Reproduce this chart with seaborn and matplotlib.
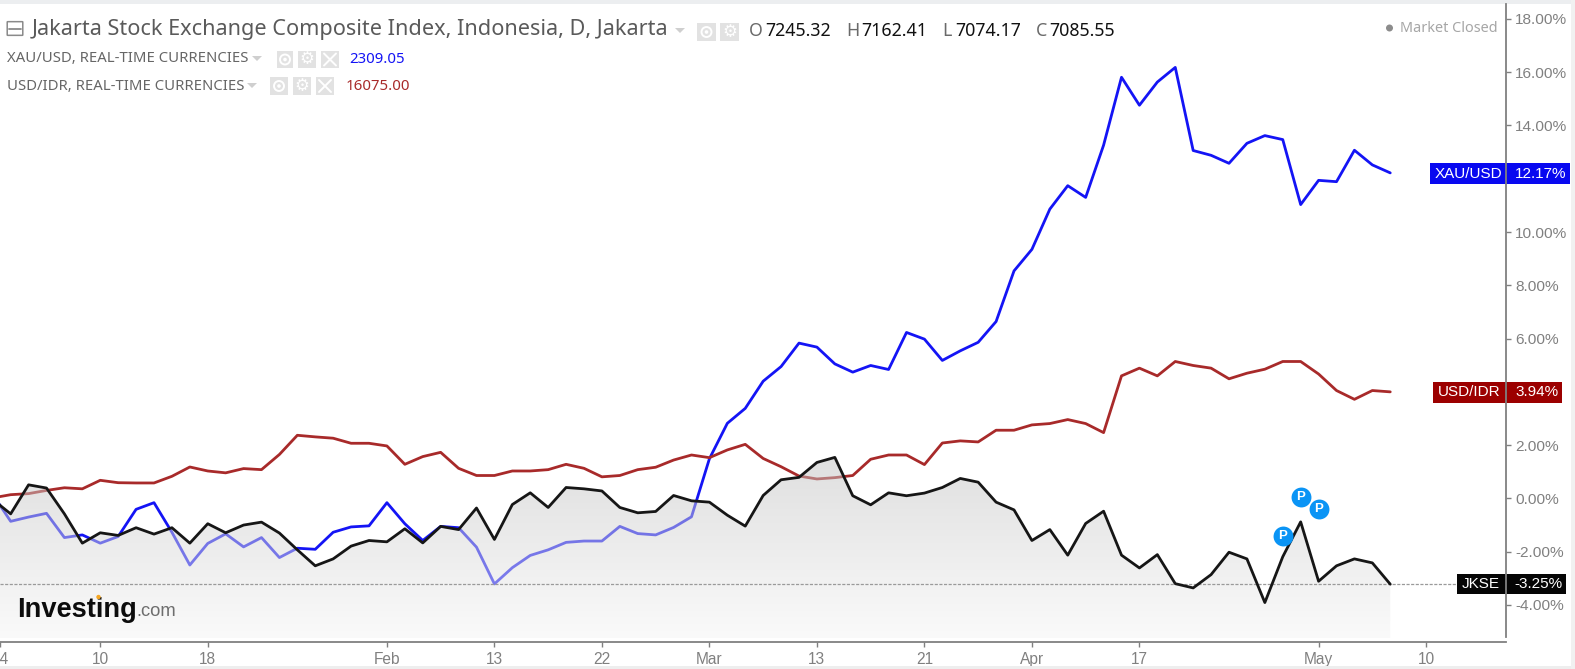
import numpy as np
import pandas as pd
import matplotlib
matplotlib.use("Agg")
import matplotlib.pyplot as plt
from matplotlib.patches import Rectangle, Ellipse, FancyBboxPatch, Polygon
import seaborn as sns

days = list(range(-1, 78))

jkse = [-0.04,
        -0.58, 0.51, 0.39, -0.58, -1.68, -1.29, -1.39, -1.10, -1.34, -1.10,
        -1.68, -0.95, -1.29, -1.00, -0.89, -1.30, -1.93, -2.53, -2.27, -1.79,
        -1.58, -1.63, -1.14, -1.67, -1.05, -1.17, -0.36, -1.54, -0.23, 0.21,
        -0.34, 0.41, 0.36, 0.28, -0.34, -0.54, -0.49, 0.11, -0.09, -0.14,
        -0.63, -1.04, 0.11, 0.70, 0.79, 1.35, 1.54, 0.10, -0.24, 0.21,
        0.10, 0.20, 0.41, 0.75, 0.61, -0.14, -0.43, -1.58, -1.17, -2.13,
        -0.94, -0.48, -2.13, -2.61, -2.11, -3.20, -3.36, -2.86, -2.02, -2.27,
        -3.91, -2.19, -0.88, -3.11, -2.53, -2.27, -2.42, -3.22]

xau = [0.15,
       -0.86, -0.70, -0.56, -1.47, -1.37, -1.68, -1.43, -0.41, -0.16, -1.27,
       -2.50, -1.69, -1.33, -1.82, -1.47, -2.22, -1.87, -1.91, -1.27, -1.07,
       -1.03, -0.16, -0.95, -1.58, -1.05, -1.10, -1.83, -3.21, -2.60, -2.14,
       -1.93, -1.65, -1.60, -1.60, -1.05, -1.32, -1.37, -1.09, -0.69, 1.49,
       2.82, 3.38, 4.40, 4.95, 5.83, 5.68, 5.05, 4.74, 4.99, 4.84,
       6.23, 5.98, 5.18, 5.54, 5.86, 6.64, 8.54, 9.35, 10.86, 11.74,
       11.30, 13.26, 15.81, 14.76, 15.63, 16.18, 13.06, 12.88, 12.58, 13.33,
       13.62, 13.47, 11.03, 11.94, 11.89, 13.07, 12.52, 12.22]

idr = [0.02,
       0.14, 0.18, 0.30, 0.40, 0.36, 0.68, 0.59, 0.58, 0.58, 0.83,
       1.18, 1.03, 0.96, 1.12, 1.08, 1.65, 2.37, 2.31, 2.26, 2.07,
       2.07, 1.97, 1.28, 1.57, 1.73, 1.13, 0.86, 0.86, 1.03, 1.03,
       1.08, 1.28, 1.13, 0.81, 0.86, 1.08, 1.17, 1.44, 1.63, 1.53,
       1.82, 2.03, 1.50, 1.19, 0.84, 0.73, 0.78, 0.86, 1.47, 1.63,
       1.63, 1.27, 2.08, 2.16, 2.12, 2.56, 2.56, 2.76, 2.81, 2.96,
       2.81, 2.47, 4.60, 4.89, 4.60, 5.14, 4.99, 4.89, 4.49, 4.70,
       4.85, 5.14, 5.14, 4.67, 4.05, 3.72, 4.05, 4.00]

x_ticks = [-0.59, 5, 11, 21, 27, 33, 39, 45, 51, 57, 63, 73, 79]
x_labels = ['24', '10', '18', 'Feb', '13', '22', 'Mar', '13', '21', 'Apr', '17', 'May', '10']
y_ticks = [18, 16, 14, 10, 8, 6, 2, 0, -2, -4]

pin_days = [71, 72, 73]
pin_values = [-1.41, 0.05, -0.40]

W, H = 1575, 669
GREY = '#808080'
BLUE = '#1414f5'
RED = '#a82a2a'
HEAD = 'Noto Sans'
ARIAL = 'Liberation Sans'

sns.set_style('white')
fig = plt.figure(figsize=(W / 100, H / 100), dpi=100)
ax = fig.add_axes([0, 1 - 642 / H, 1506 / W, (642 - 4) / H])


def fx(x):
    return x / W


def fy(y):
    return 1 - y / H


def box(x0, y0, x1, y1, color, z=2.4):
    ax.add_patch(Rectangle((fx(x0), fy(y1)), (x1 - x0) / W, (y1 - y0) / H, color=color, lw=0,
                           transform=fig.transFigure, clip_on=False, zorder=z))


def dot(x, y, r, z=6, **kw):
    ax.add_patch(Ellipse((fx(x), fy(y)), 2 * r / W, 2 * r / H, transform=fig.transFigure, clip_on=False,
                         zorder=z, **kw))


def label(x, y, s, color=GREY, size=11.0, family=ARIAL, ha='left', weight='normal'):
    ax.text(fx(x), fy(y), s, color=color, fontsize=size, family=family, ha=ha, va='center',
            weight=weight, transform=fig.transFigure, clip_on=False, zorder=6)


def fig_line(xs, ys, color, lw=1.0, z=6):
    ax.plot([fx(v) for v in xs], [fy(v) for v in ys], color=color, lw=lw, transform=fig.transFigure,
            clip_on=False, zorder=z, scalex=False, scaley=False)


def drop(x, y):
    ax.add_patch(Polygon([(fx(x - 5), fy(y - 2)), (fx(x + 5), fy(y - 2)), (fx(x), fy(y + 3))], color='#cfcfcf',
                         lw=0, transform=fig.transFigure, clip_on=False, zorder=6))


def icons(xs, y0, y1):
    # eye, gear and cross buttons next to each series name
    names = ['eye', 'gear', 'x']
    for (x0, x1), name in zip(xs, names):
        box(x0, y0, x1, y1, '#e2e2e2', z=5)
        cx, cy = (x0 + x1) / 2, (y0 + y1) / 2
        if name == 'eye':
            dot(cx, cy, 5, fill=False, ec='white', lw=1.4)
            dot(cx, cy, 1.8, color='white', lw=0)
        elif name == 'gear':
            ax.text(fx(cx), fy(cy), '\u2699', color='white', fontsize=12, family='DejaVu Sans', ha='center',
                    va='center', transform=fig.transFigure, zorder=6)
        else:
            fig_line([cx - 6, cx + 6], [cy - 6, cy + 6], 'white', 1.4)
            fig_line([cx - 6, cx + 6], [cy + 6, cy - 6], 'white', 1.4)


df = pd.DataFrame({'day': days, 'XAU/USD': xau, 'USD/IDR': idr, 'JKSE': jkse})
long_df = df.melt(id_vars='day', var_name='series', value_name='change')

sns.lineplot(data=long_df[long_df['series'] != 'JKSE'], x='day', y='change', hue='series',
             palette={'XAU/USD': BLUE, 'USD/IDR': RED}, linewidth=2.0, legend=False, ax=ax, zorder=2)

# grey area below JKSE, half see-through so it washes out the lines under it
fill_bottom = -5.25
area = ax.fill_between(days, jkse, fill_bottom, facecolor='none', edgecolor='none')
shade = np.linspace(191, 245, 200) / 255
rgba = np.ones((200, 1, 4))
rgba[:, 0, 0] = shade
rgba[:, 0, 1] = shade
rgba[:, 0, 2] = shade
rgba[:, 0, 3] = 0.5
im = ax.imshow(rgba, extent=[-1, 77, fill_bottom, 1.6], origin='upper', aspect='auto', zorder=2.2,
               interpolation='bilinear')
im.set_clip_path(area.get_paths()[0], transform=ax.transData)

sns.lineplot(data=long_df[long_df['series'] == 'JKSE'], x='day', y='change', color='#161616', linewidth=2.0,
             legend=False, ax=ax, zorder=3)

ax.axhline(jkse[-1], color='#9a9a9a', lw=0.9, ls=(0, (2.5, 1.2)), zorder=2.3)

sns.scatterplot(x=pin_days, y=pin_values, color='#0a94f5', s=205, linewidth=0, legend=False, ax=ax, zorder=4)
for d, v in zip(pin_days, pin_values):
    ax.text(d, v, 'P', color='white', fontsize=9.5, family=ARIAL, weight='bold', ha='center', va='center', zorder=5)

ax.set_xlim(-0.595, 83.46)
ax.set_ylim(-5.39, 18.56)
ax.set_xlabel('')
ax.set_ylabel('')
ax.set_xticks(x_ticks)
ax.set_xticklabels(x_labels, family=ARIAL, fontsize=11.2, color=GREY)
ax.yaxis.tick_right()
ax.set_yticks(y_ticks)
ax.set_yticklabels(['%.2f%%' % v for v in y_ticks], family=ARIAL, fontsize=11.1, color=GREY)
ax.tick_params(axis='x', length=3.5, width=1, color=GREY, pad=4, bottom=True)
ax.tick_params(axis='y', length=3.5, width=1, color=GREY, pad=3, right=True)
for side in ['top', 'left']:
    ax.spines[side].set_visible(False)
for side in ['bottom', 'right']:
    ax.spines[side].set_color(GREY)
    ax.spines[side].set_linewidth(1.3)
    ax.spines[side].set_zorder(4.5)
ax.spines['right'].set_bounds(-5.2, 18.56)

# price tags on the right axis
box(1430, 163, 1570, 184, '#0808f0')
label(1435, 173.5, 'XAU/USD', 'white')
label(1515, 173.5, '12.17%', 'white')
box(1433, 382, 1562, 403, '#9c0000')
label(1438, 392.5, 'USD/IDR', 'white')
label(1515, 392.5, '3.94%', 'white')
box(1457, 574, 1566, 594, '#050505')
label(1462, 584, 'JKSE', 'white')
label(1514, 584, '-3.25%', 'white')

# header rows
ax.add_patch(FancyBboxPatch((fx(8), fy(35)), 14 / W, 13 / H, boxstyle='round,pad=0.0005', fc='white', ec='#8a8a8a',
                            lw=1.1, transform=fig.transFigure, clip_on=False, zorder=6))
fig_line([9, 21], [29, 29], '#8a8a8a', 1.3)
label(32, 30, 'Jakarta Stock Exchange Composite Index, Indonesia, D, Jakarta', '#5a5a5a', 15.6, HEAD)
drop(680, 30)
icons([(697, 716), (720, 739)], 23, 41)
for x_key, key, x_val, val in [(749, 'O', 765, '7245.32'), (846, 'H', 861, '7162.41'),
                               (942, 'L', 955, '7074.17'), (1036, 'C', 1049, '7085.55')]:
    label(x_key, 31, key, '#6a6a6a', 12.8, HEAD)
    label(x_val, 31, val, '#111111', 12.8, HEAD)

label(7, 59, 'XAU/USD, REAL-TIME CURRENCIES', '#666666', 10.7, HEAD)
drop(257, 58)
icons([(277, 293), (298, 316), (321, 339)], 51, 68)
label(349, 59.5, '2309.05', BLUE, 10.8, HEAD)

label(7, 86, 'USD/IDR, REAL-TIME CURRENCIES', '#666666', 10.7, HEAD)
drop(252, 85)
icons([(270, 288), (293, 311), (316, 334)], 77, 95)
label(346, 86.5, '16075.00', RED, 10.8, HEAD)

dot(1389.5, 28, 3.5, color='#8c8c8c', lw=0)
label(1400, 28, 'Market Closed', '#a6a6a6', 10.4, HEAD)

# logo
label(17, 610, 'Investing', '#0c0c0c', 19.6, ARIAL, weight='bold')
label(136, 612, '.com', '#6e6e6e', 13.2, ARIAL)
dot(98.5, 597, 2.2, z=7, color='#f5a623', lw=0)

# window edges
box(0, 0, W, 4, '#eceef0', z=1)
box(0, 666, W, H, '#eeeeee', z=1)
box(1571, 0, W, H, '#f1f1f1', z=1)

fig.savefig('out.png', dpi=100, facecolor='white')
